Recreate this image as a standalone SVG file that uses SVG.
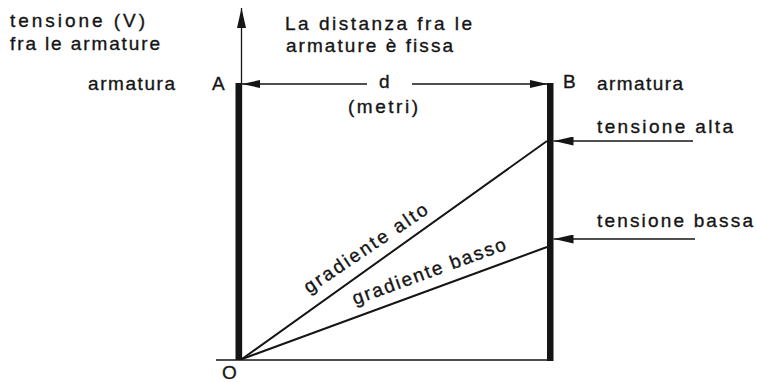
<svg xmlns="http://www.w3.org/2000/svg" width="757" height="382" viewBox="0 0 757 382">
<style>
text{font-family:"Liberation Sans",Arial,sans-serif;font-size:19px;fill:#151515;stroke:#151515;stroke-width:0.35}
.thin{stroke:#151515;stroke-width:1.3;fill:none}
.grad{stroke:#151515;stroke-width:2;fill:none}
.bar{fill:#151515}
</style>
<defs>
<marker id="ah" viewBox="0 0 20 9" refX="20" refY="4.5" markerWidth="20" markerHeight="9" markerUnits="userSpaceOnUse" orient="auto">
<path d="M0,0 L20,4.5 L0,9 Z" fill="#151515"/>
</marker>
<marker id="ahs" viewBox="0 0 18 8" refX="18" refY="4" markerWidth="18" markerHeight="8" markerUnits="userSpaceOnUse" orient="auto">
<path d="M0,0 L18,4 L0,8 Z" fill="#151515"/>
</marker>
</defs>
<rect width="757" height="382" fill="#fff"/>

<g id="labels-top">
<text x="10" y="27" textLength="135" lengthAdjust="spacing">tensione (V)</text>
<text x="10" y="50" textLength="150" lengthAdjust="spacing">fra le armature</text>
<text x="285" y="30" textLength="187" lengthAdjust="spacing">La distanza fra le</text>
<text x="286" y="52" textLength="167" lengthAdjust="spacing">armature è fissa</text>
</g>

<g id="plate-A">
<rect class="bar" x="235.5" y="83" width="6.5" height="277"/>
<text x="88" y="90" textLength="87" lengthAdjust="spacing">armatura</text>
<text x="212" y="90">A</text>
</g>

<g id="plate-B">
<rect class="bar" x="547" y="83" width="6.5" height="278"/>
<text x="563" y="88">B</text>
<text x="597" y="90" textLength="86" lengthAdjust="spacing">armatura</text>
</g>

<g id="origin">
<text x="222" y="379" font-size="18">O</text>
</g>

<g id="distance-label">
<text x="379" y="88">d</text>
<text x="348" y="113" textLength="70" lengthAdjust="spacing">(metri)</text>
</g>

<g id="tension-high">
<text x="597" y="133" textLength="136" lengthAdjust="spacing">tensione alta</text>
</g>
<g id="tension-low">
<text x="597" y="227" textLength="156" lengthAdjust="spacing">tensione bassa</text>
</g>

<g id="gradient-high-label">
<text transform="translate(309,294) rotate(-34)" textLength="145" lengthAdjust="spacing">gradiente alto</text>
</g>
<g id="gradient-low-label">
<text transform="translate(355,305) rotate(-20)" textLength="162" lengthAdjust="spacing">gradiente basso</text>
</g>

<g id="connectors">
<line class="thin" x1="241.5" y1="360" x2="241.5" y2="8" stroke-width="1.5" marker-end="url(#ah)"/>
<line class="thin" x1="216" y1="360" x2="553" y2="360" stroke-width="1.5"/>
<line class="thin" x1="367" y1="84" x2="242" y2="84" marker-end="url(#ahs)"/>
<line class="thin" x1="412" y1="84" x2="547.5" y2="84" marker-end="url(#ahs)"/>
<line class="thin" x1="693" y1="141" x2="553.5" y2="141" marker-end="url(#ah)"/>
<line class="thin" x1="695" y1="239" x2="553.5" y2="239" marker-end="url(#ah)"/>
<line class="grad" x1="242" y1="359" x2="547" y2="141"/>
<line class="grad" x1="242" y1="359" x2="547" y2="247"/>
</g>
</svg>
